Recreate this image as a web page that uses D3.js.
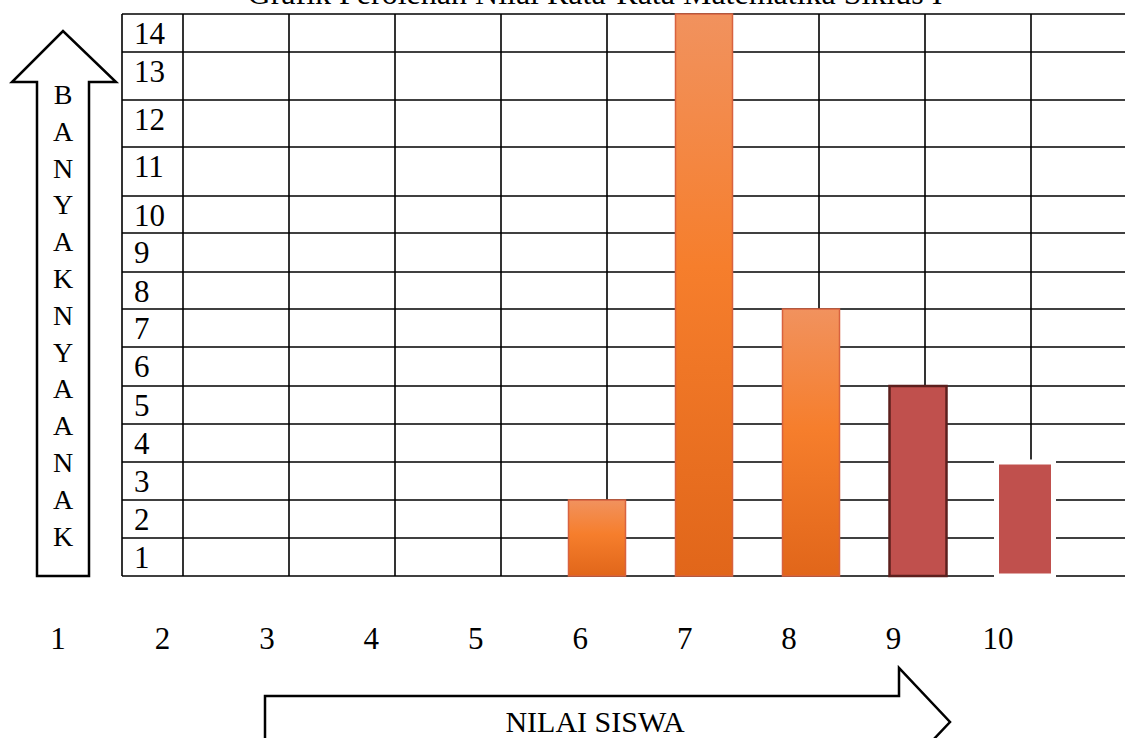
<!DOCTYPE html>
<html>
<head>
<meta charset="utf-8">
<script src="https://cdn.jsdelivr.net/npm/d3@7"></script>
<style>
  html, body { margin: 0; padding: 0; background: #fff; }
  svg { display: block; }
  text { font-family: "Liberation Serif", "Times New Roman", serif; fill: #000; }
</style>
</head>
<body>
<script>
// ---------- data ----------
const title = "Grafik Perolehan Nilai Rata-Rata Matematika Siklus I";
const nilai = [6, 7, 8, 9, 10];          // categories (student score)
const banyak = [2, 14, 7, 5, 3];         // number of students
const yTicks = [1, 2, 3, 4, 5, 6, 7, 8, 9, 10, 11, 12, 13, 14];
const xTicks = [1, 2, 3, 4, 5, 6, 7, 8, 9, 10];
const yLabelText = "BANYAKNYA ANAK";
const xLabelText = "NILAI SISWA";

// ---------- layout ----------
const W = 1125, H = 738;
const svg = d3.select("body").append("svg").attr("width", W).attr("height", H);

// table rows (uneven, as in the hand-drawn table) bottom -> top
const rowBounds = [576, 538, 500, 462, 424, 386, 347, 309, 272, 233, 196, 147, 100, 52, 14];
const y = d3.scaleLinear().domain(d3.range(0, 15)).range(rowBounds);

const tableLeft = 122, labelColRight = 183, colW = 106, tableRight = 1140;
const colLines = [tableLeft].concat(d3.range(labelColRight, tableRight, colW));

// bar position scale and tick label scale
const xBar = d3.scaleLinear().domain([6, 10]).range([597, 1025]);
const xTick = d3.scaleLinear().domain([1, 10]).range([58, 998]);
const barW = 57;

// ---------- defs ----------
const defs = svg.append("defs");
const g1 = defs.append("linearGradient").attr("id", "orangeGrad")
  .attr("x1", 0).attr("y1", 0).attr("x2", 0).attr("y2", 1);
g1.append("stop").attr("offset", "0%").attr("stop-color", "#F1925E");
g1.append("stop").attr("offset", "45%").attr("stop-color", "#F67E2C");
g1.append("stop").attr("offset", "100%").attr("stop-color", "#E1661A");

const styleFor = v => {
  if (v === 9) return { fill: "#C0504D", stroke: "#5C1F1D", sw: 2.5 };
  if (v === 10) return { fill: "#C0504D", stroke: "#FFFFFF", sw: 5 };
  return { fill: "url(#orangeGrad)", stroke: "#D8623F", sw: 1.5 };
};

// ---------- title (cut off at the top, as in the source) ----------
svg.append("text")
  .attr("x", 595).attr("y", 4)
  .attr("text-anchor", "middle")
  .attr("font-size", 32)
  .text(title);

// ---------- grid ----------
const grid = svg.append("g").attr("stroke", "#000").attr("stroke-width", 1.6);
grid.selectAll("line.h").data(d3.range(0, 15)).enter().append("line")
  .attr("x1", tableLeft).attr("x2", tableRight)
  .attr("y1", d => y(d)).attr("y2", d => y(d));
grid.selectAll("line.v").data(colLines).enter().append("line")
  .attr("x1", d => d).attr("x2", d => d)
  .attr("y1", y(14)).attr("y2", y(0));

// y tick labels inside first column
svg.append("g").selectAll("text").data(yTicks).enter().append("text")
  .attr("x", 134)
  .attr("y", d => y(d) + 30)
  .attr("font-size", 31)
  .text(d => d);

// ---------- bars ----------
const data = nilai.map((v, i) => ({ v, n: banyak[i] }));
svg.append("g").selectAll("rect").data(data).enter().append("rect")
  .attr("x", d => xBar(d.v) - barW / 2)
  .attr("width", barW)
  .attr("y", d => y(d.n))
  .attr("height", d => y(0) - y(d.n))
  .attr("fill", d => styleFor(d.v).fill)
  .attr("stroke", d => styleFor(d.v).stroke)
  .attr("stroke-width", d => styleFor(d.v).sw);

// ---------- x tick labels ----------
svg.append("g").selectAll("text").data(xTicks).enter().append("text")
  .attr("x", d => xTick(d))
  .attr("y", 649)
  .attr("text-anchor", "middle")
  .attr("font-size", 31)
  .text(d => d);

// ---------- up arrow with vertical label ----------
svg.append("path")
  .attr("d", "M37,576 L37,82 L12,82 L63,31 L116,82 L89,82 L89,576 Z")
  .attr("fill", "#fff").attr("stroke", "#000").attr("stroke-width", 2.5)
  .attr("stroke-linejoin", "miter");
const letters = yLabelText.replace(/\s/g, "").split("");
svg.append("g").selectAll("text").data(letters).enter().append("text")
  .attr("x", 63)
  .attr("y", (d, i) => 104 + i * 36.8)
  .attr("text-anchor", "middle")
  .attr("font-size", 28)
  .text(d => d);

// ---------- right arrow with horizontal label ----------
svg.append("path")
  .attr("d", "M265,760 L265,696 L899,696 L899,668 L950,722 L899,776 L899,760")
  .attr("fill", "#fff").attr("stroke", "#000").attr("stroke-width", 2.5);
svg.append("text")
  .attr("x", 595).attr("y", 732)
  .attr("text-anchor", "middle")
  .attr("font-size", 30)
  .text(xLabelText);
</script>
</body>
</html>
